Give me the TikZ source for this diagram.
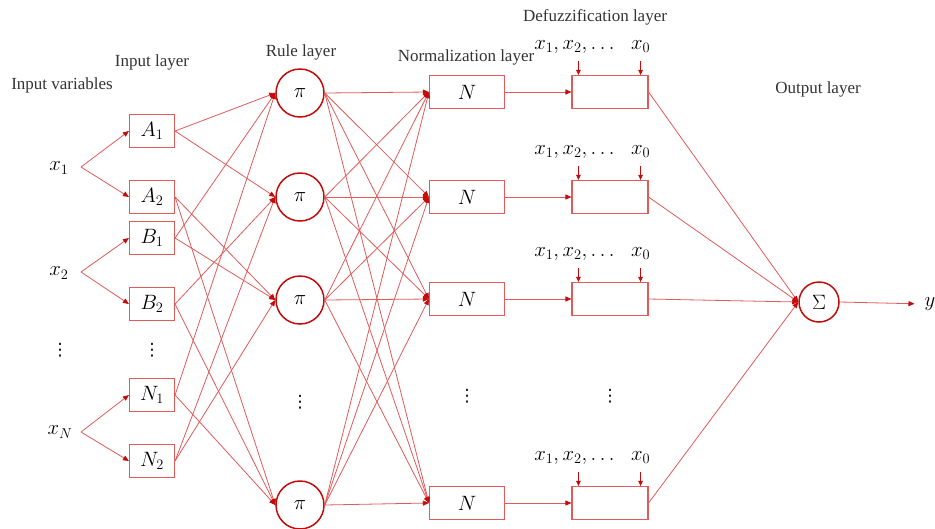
\documentclass[tikz,border=0pt]{standalone}
\usepackage{fontspec}
\setmainfont{Liberation Serif}
\newfontfamily\dejavu{DejaVu Sans}
\usetikzlibrary{arrows.meta}
\definecolor{lred}{RGB}{226,90,90}
\definecolor{dred}{RGB}{196,10,10}
\tikzset{
  conn/.style={draw=lred, line width=0.8pt, -{Triangle[length=6pt,width=5pt,color=dred]}},
  smallarr/.style={draw=dred, line width=0.8pt, -{Triangle[length=5pt,width=4.5pt,color=dred]}},
  mf/.style={draw=lred, line width=1.1pt, minimum width=45pt, minimum height=33pt, inner sep=0pt, font=\fontsize{21}{23}\selectfont},
  nbox/.style={draw=lred, line width=1.1pt, minimum width=75pt, minimum height=33pt, inner sep=0pt, font=\fontsize{22}{24}\selectfont},
  dbox/.style={draw=lred, line width=1.1pt, minimum width=76pt, minimum height=33pt, inner sep=0pt},
  rule/.style={circle, draw=dred, line width=1.5pt, minimum size=48pt, inner sep=0pt, font=\fontsize{21}{23}\selectfont},
  sumnode/.style={circle, draw=dred, line width=1.5pt, minimum size=40pt, inner sep=0pt, font=\fontsize{21}{23}\selectfont},
  var/.style={inner sep=0pt, font=\fontsize{22}{24}\selectfont},
  dlab/.style={inner sep=0pt, font=\fontsize{20}{22}\selectfont},
  layer/.style={inner sep=0pt, font=\fontsize{17}{20}\selectfont, text=black!80},
  dots/.style={inner sep=0pt, font=\dejavu\fontsize{17}{20}\selectfont}
}
\begin{document}
\begin{tikzpicture}[x=1pt,y=-1pt]
\useasboundingbox (0,0) rectangle (935,528);

% layer titles
\node[layer] (tv) at (62,85) {Input variables};
\node[layer] (ti) at (152,62) {Input layer};
\node[layer] (tr) at (301,52) {Rule layer};
\node[layer] (tn) at (466,57) {Normalization layer};
\node[layer] (td) at (595,17) {Defuzzification layer};
\node[layer] (to) at (818,89) {Output layer};

% input variables
\node[var] (x1) at (59,168) {$x_1$};
\node[var] (x2) at (59,273) {$x_2$};
\node[var] (xN) at (60,432) {$x_N$};
\coordinate (x1b) at (81,167);
\coordinate (x2b) at (81,272);
\coordinate (xNb) at (81,432);
\node[dots] (vd1) at (60,350) {⋮};

% input layer
\node[mf] (A1) at (152,131) {$A_1$};
\node[mf] (A2) at (152,197) {$A_2$};
\node[mf] (B1) at (152,238) {$B_1$};
\node[mf] (B2) at (152,304) {$B_2$};
\node[mf] (N1) at (152,395) {$N_1$};
\node[mf] (N2) at (152,461) {$N_2$};
\node[dots] (vd2) at (152,350) {⋮};

\draw[conn] (x1b) -- (A1.west);
\draw[conn] (x1b) -- (A2.west);
\draw[conn] (x2b) -- (B1.west);
\draw[conn] (x2b) -- (B2.west);
\draw[conn] (xNb) -- (N1.west);
\draw[conn] (xNb) -- (N2.west);

% rule layer
\node[rule] (R1) at (300,93) {$\pi$};
\node[rule] (R2) at (300,197) {$\pi$};
\node[rule] (R3) at (300,300) {$\pi$};
\node[rule] (R4) at (300,505) {$\pi$};
\node[dots] (vd3) at (300,402) {⋮};

\foreach \a/\r in {A1/R1,A1/R2,A2/R3,A2/R4,B1/R1,B1/R3,B2/R2,B2/R4,N1/R1,N1/R4,N2/R2,N2/R3}
  \draw[conn] (\a.east) -- (\r.west);

% normalization layer
\node[nbox] (M1) at (467,92) {$N$};
\node[nbox] (M2) at (467,197) {$N$};
\node[nbox] (M3) at (467,299) {$N$};
\node[nbox] (M4) at (467,503) {$N$};
\node[dots] (vd4) at (467,396) {⋮};

\foreach \r in {R1,R2,R3,R4}
  \foreach \m in {M1,M2,M3,M4}
    \draw[conn] (\r.east) -- (\m.west);

% defuzzification layer
\foreach \i/\yy in {1/92,2/197,3/299,4/503}{
  \node[dbox] (D\i) at (610,\yy) {};
  \draw[conn] (M\i.east) -- (D\i.west);
  \coordinate (Da\i) at ([xshift=7pt,yshift=14pt]D\i.north west);
  \coordinate (Db\i) at ([xshift=-8pt,yshift=14pt]D\i.north east);
  \node[dlab] (La\i) at ([xshift=3pt,yshift=28pt]D\i.north west) {$x_1, x_2, \ldots$};
  \node[dlab] (Lb\i) at ([xshift=-8pt,yshift=28pt]D\i.north east) {$x_0$};
  \draw[smallarr] (Da\i) -- ([xshift=7pt]D\i.north west);
  \draw[smallarr] (Db\i) -- ([xshift=-8pt]D\i.north east);
}
\node[dots] (vd5) at (610,396) {⋮};

% output layer
\node[sumnode] (S) at (819,302) {$\Sigma$};
\node[var] (yo) at (930,304) {$y$};
\foreach \i in {1,2,3,4}
  \draw[conn] (D\i.east) -- (S.west);
\draw[conn, shorten >=10pt] (S.east) -- (yo.west);
\end{tikzpicture}
\end{document}
